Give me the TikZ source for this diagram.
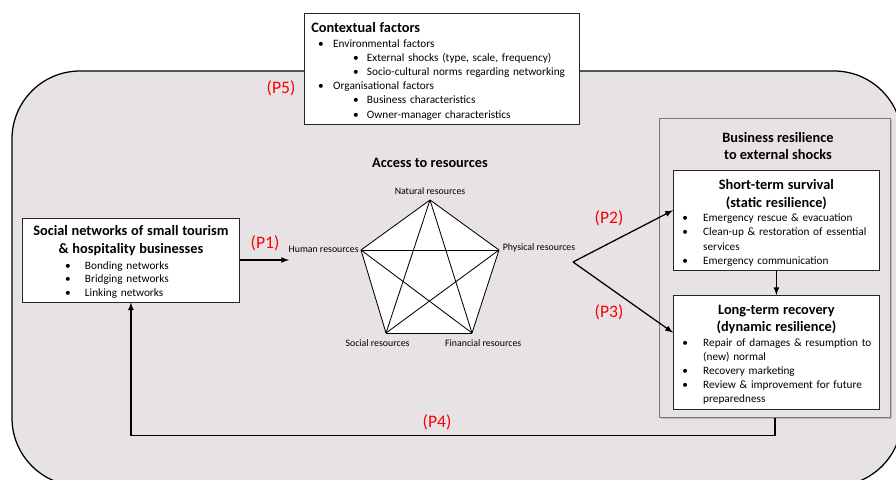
\documentclass[tikz,border=0pt]{standalone}
\usepackage{fontspec}
\setmainfont{Carlito}
\usetikzlibrary{arrows,positioning,shapes,calc,shadows}

\definecolor{bggray}{RGB}{230,226,229}
\definecolor{framegray}{RGB}{120,120,120}

\newcommand{\bodyfont}{\fontsize{8}{10.1}\selectfont\parindent=0pt}
\newcommand{\netfont}{\fontsize{8}{9.6}\selectfont\parindent=0pt}
\newcommand{\headfont}{\fontsize{10.2}{12.5}\selectfont\bfseries}
\newcommand{\itm}[3]{\hspace*{#1}\makebox[#2][l]{\textbullet}\mbox{#3}}

\begin{document}
\begin{tikzpicture}[x=0.025cm, y=-0.025cm, >=latex,
  textbox/.style={draw=black!85, fill=white, anchor=north west, align=left, inner xsep=5pt, inner ysep=3pt, font=\bodyfont},
  head/.style={font=\headfont, align=center},
  res label/.style={font=\fontsize{7}{8}\selectfont, inner sep=1.5pt},
  prop label/.style={text=red, font=\fontsize{12.5}{14}\selectfont},
  flow/.style={->, line width=0.9pt}]
\useasboundingbox (0,0) rectangle (896,480);
\fill[white] (0,0) rectangle (896,480);
\begin{scope}
\clip (0,0) rectangle (896,480);
\draw[fill=bggray, line width=0.9pt, rounded corners=1.7cm] (12,71) rectangle (902,486);
\end{scope}

% contextual factors
\node[textbox, text width=185.6pt] (ctx) at (304,13) {%
{\headfont\rule{0pt}{11pt}Contextual factors}\\
\itm{4.9pt}{10.7pt}{Environmental factors}\\
\itm{29.7pt}{9.9pt}{External shocks (type, scale, frequency)}\\
\itm{29.7pt}{9.9pt}{Socio-cultural norms regarding networking}\\
\itm{4.9pt}{10.7pt}{Organisational factors}\\
\itm{29.7pt}{9.9pt}{Business characteristics}\\
\itm{29.7pt}{9.9pt}{Owner-manager characteristics}};
\node[prop label] (p5) at (281,88) {(P5)};

% social networks
\node[textbox, text width=144.5pt, font=\netfont] (social) at (22,218) {%
{\centering\headfont\rule{0pt}{9.5pt}Social networks of small tourism\\ \& hospitality businesses\par}
\vspace{1.5pt}
\itm{25.5pt}{14.1pt}{Bonding networks}\\
\itm{25.5pt}{14.1pt}{Bridging networks}\\
\itm{25.5pt}{14.1pt}{Linking networks}};

% access to resources
\node[head] (access) at (430,163) {Access to resources};
\coordinate (nat) at (430,200);
\coordinate (hum) at (361,250);
\coordinate (phy) at (499,250);
\coordinate (soc) at (386,333);
\coordinate (fin) at (472,333);
\fill[white] (nat) -- (phy) -- (fin) -- (soc) -- (hum) -- cycle;
\begin{scope}[every node/.style={res label}]
\node[above, yshift=2pt] (natl) at (nat) {Natural resources};
\node[anchor=south east, yshift=-3.5pt] (huml) at (hum) {Human resources};
\node[anchor=south west, yshift=-3.5pt, xshift=1pt] (phyl) at (phy) {Physical resources};
\node[below, xshift=-6pt, yshift=-3pt] (socl) at (soc) {Social resources};
\node[below, xshift=8pt, yshift=-3pt] (finl) at (fin) {Financial resources};
\end{scope}
\begin{scope}[line width=0.6pt]
\draw (nat) edge (phy) edge (fin) edge (soc) edge (hum);
\draw (hum) edge (phy) edge (fin) edge (soc);
\draw (phy) edge (fin) edge (soc);
\draw (soc) edge (fin);
\end{scope}

% business resilience
\node[draw=framegray, fill=bggray, anchor=north west, minimum width=164.4pt, minimum height=212.6pt, drop shadow={shadow xshift=1pt, shadow yshift=-1pt, fill=black!40}] (res) at (659,118) {};
\node[head] (restitle) at (778,146) {Business resilience\\to external shocks};
\node[textbox, text width=136.7pt] (short) at (673,170) {%
{\centering\headfont\rule{0pt}{11pt}Short-term survival\\ (static resilience)\par}
\itm{1.4pt}{14.9pt}{Emergency rescue \& evacuation}\\
\itm{1.4pt}{14.9pt}{Clean-up \& restoration of essential}\\
\hspace*{16.3pt}services\\
\itm{1.4pt}{14.9pt}{Emergency communication}};
\node[textbox, text width=136.7pt] (long) at (673,295) {%
{\centering\headfont\rule{0pt}{10.5pt}Long-term recovery\\ (dynamic resilience)\par}
\itm{1.4pt}{14.9pt}{Repair of damages \& resumption to}\\
\hspace*{16.3pt}(new) normal\\
\itm{1.4pt}{14.9pt}{Recovery marketing}\\
\itm{1.4pt}{14.9pt}{Review \& improvement for future}\\
\hspace*{16.3pt}preparedness};

% propositions
\coordinate (p1end) at (289,260);
\coordinate (fork) at (573,262);
\draw[flow] (social.east |- p1end) -- (p1end);
\node[prop label] (p1) at (265,243) {(P1)};
\draw[flow] (fork) -- ($(short.north west)!0.4!(short.south west)$);
\draw[flow] (fork) -- ($(long.north west)!0.33!(long.south west)$);
\node[prop label] (p2) at (609,218) {(P2)};
\node[prop label] (p3) at (609,312) {(P3)};
\draw[flow] (short.south) -- (long.north);
\draw[flow] (res.south) -- ++(0,18) -| (social.south);
\node[prop label] (p4) at (437,422) {(P4)};
\end{tikzpicture}
\end{document}
